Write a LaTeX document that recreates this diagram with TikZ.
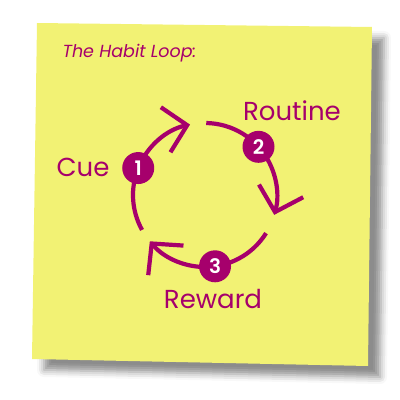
\documentclass[tikz,border=0pt]{standalone}
\usepackage{fontspec}
\setmainfont{Poppins}[BoldFont=* SemiBold]
\usetikzlibrary{arrows.meta,shadows.blur}
\definecolor{note}{HTML}{F2F274}
\definecolor{mag}{HTML}{A6006C}
\tikzset{
  loop/.style={draw=mag,line width=4.2pt},
  tip/.style={-{Straight Barb[length=22pt,width=46pt,line width=4.2pt]}},
  num/.style={circle,fill=mag,text=white,minimum size=32pt,inner sep=0pt,font=\fontsize{20}{20}\selectfont\bfseries},
  lbl/.style={text=mag,font=\fontsize{26}{26}\selectfont},
}
\begin{document}
\begin{tikzpicture}[x=1pt,y=1pt]
\useasboundingbox (0,0) rectangle (400,400);
\fill[note,blur shadow={shadow xshift=12pt,shadow yshift=-11pt,shadow blur radius=7pt,shadow opacity=45}]
  (37,377) -- (372,373) -- (368,34) -- (32,41) -- cycle;
\coordinate (c) at (205,205);
\node[text=mag,anchor=base west,font=\fontsize{17.5}{17.5}\selectfont\itshape] (title) at (59,342) {The Habit Loop:};
\draw[loop,tip] ([shift={(158:72)}]c) arc[start angle=158,end angle=102,radius=72];
\draw[loop,tip] ([shift={(89:72)}]c) arc[start angle=89,end angle=-16,radius=72];
\draw[loop,tip] ([shift={(-32:72)}]c) arc[start angle=-32,end angle=-140,radius=72];
\draw[loop] ([shift={(-151:72)}]c) arc[start angle=-151,end angle=-202,radius=72];
\node[num] (n1) at ([shift={(158:72)}]c) {1};
\node[num] (n2) at ([shift={(42:72)}]c) {2};
\node[num] (n3) at ([shift={(-82:72)}]c) {3};
\node[lbl] (cue) at (83,233) {Cue};
\node[lbl] (routine) at (292,289) {Routine};
\node[lbl] (reward) at (213,101) {Reward};
\end{tikzpicture}
\end{document}
